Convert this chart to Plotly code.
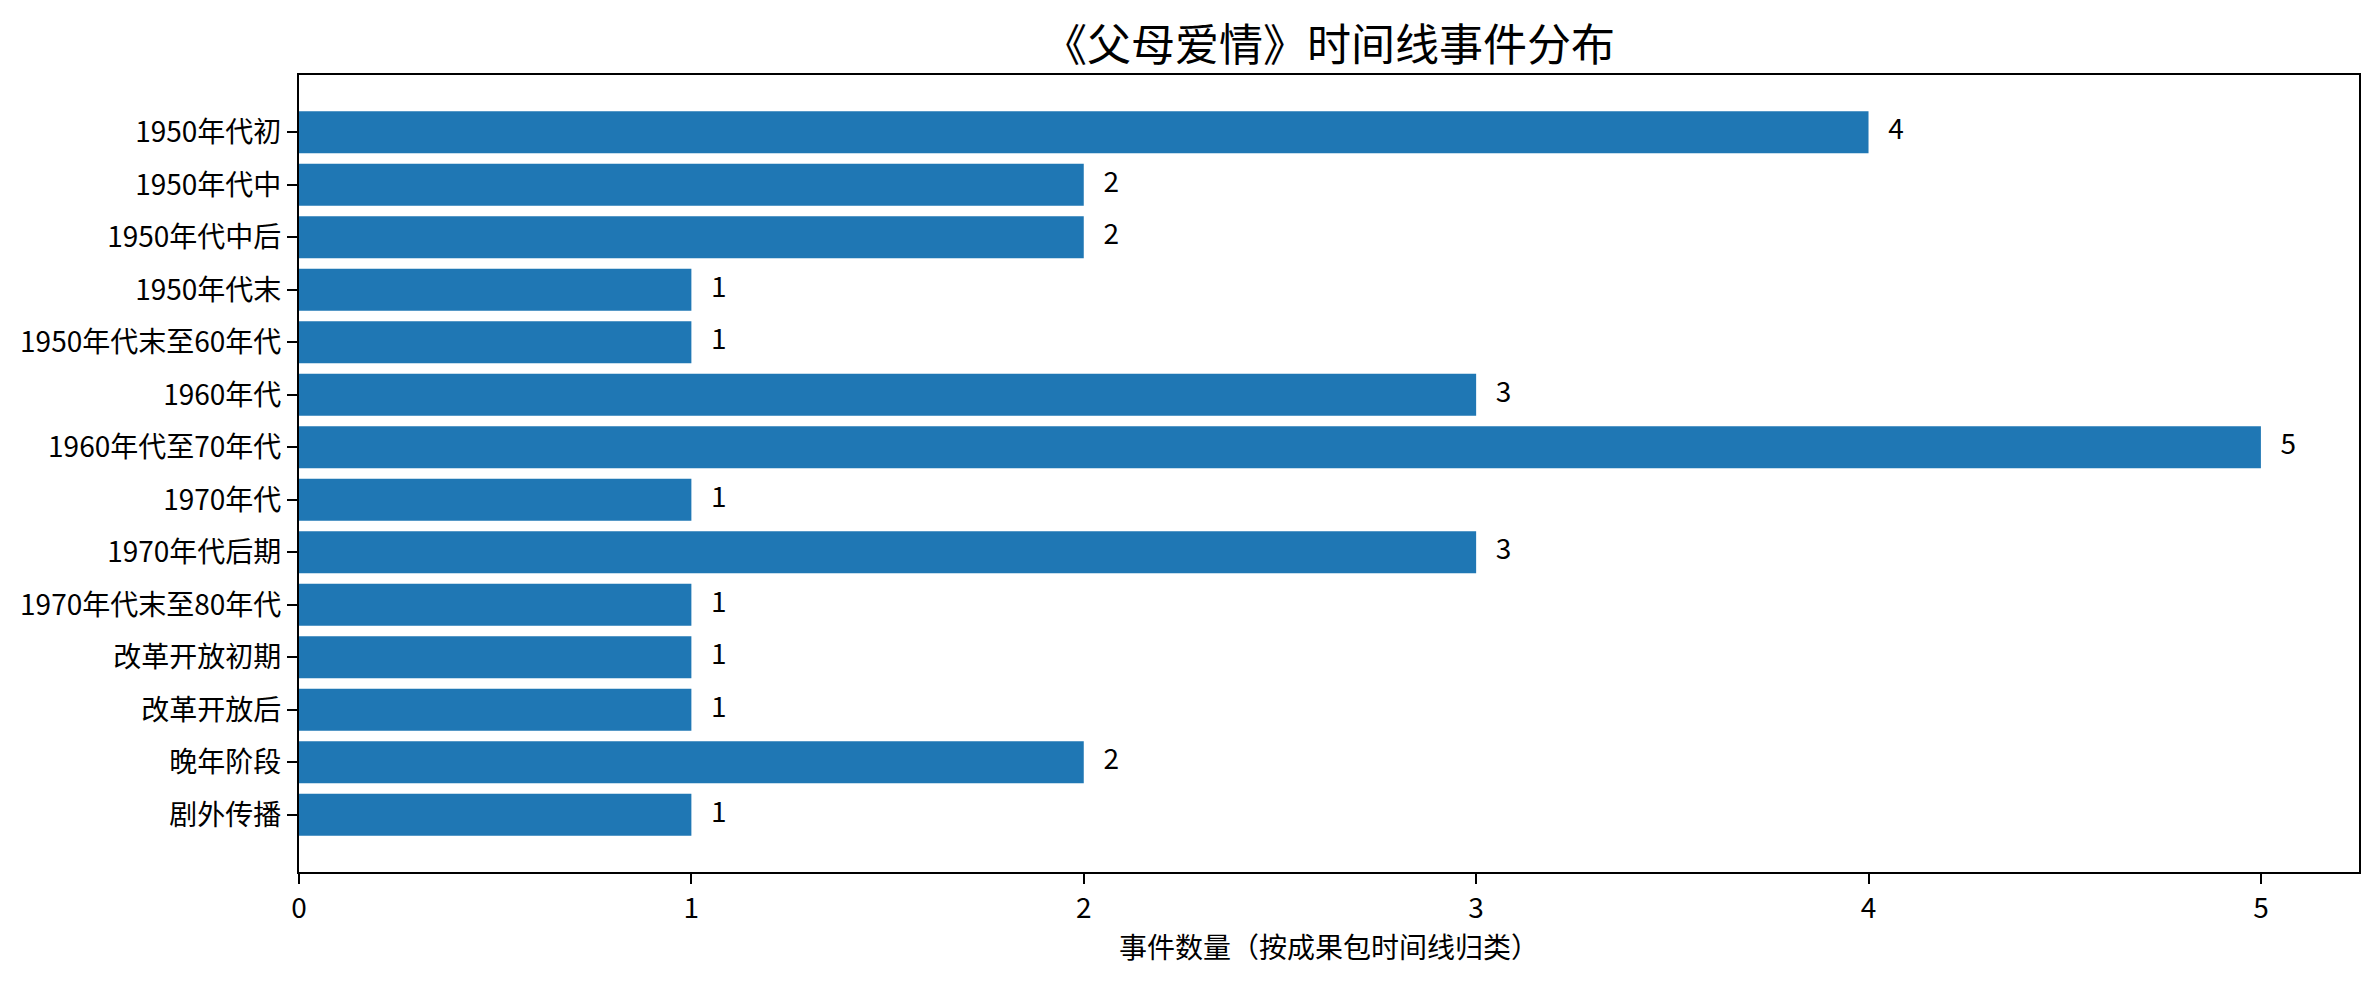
import plotly.graph_objects as go

# 时间线分类与事件数量
periodos = ['1950年代初', '1950年代中', '1950年代中后', '1950年代末', '1950年代末至60年代',
            '1960年代', '1960年代至70年代', '1970年代', '1970年代后期', '1970年代末至80年代',
            '改革开放初期', '改革开放后', '晚年阶段', '剧外传播']
conteos = [4, 2, 2, 1, 1, 3, 5, 1, 3, 1, 1, 1, 2, 1]

titulo = '《父母爱情》时间线事件分布'
etiqueta_x = '事件数量（按成果包时间线归类）'

fuente = 'Noto Sans CJK SC'

fig = go.Figure()
fig.add_trace(go.Bar(
    x=conteos, y=periodos, orientation='h',
    marker=dict(color='#1f77b4', line=dict(width=0)),
    hoverinfo='x+y', showlegend=False
))
# etiquetas de valor junto a cada barra
fig.add_trace(go.Scatter(
    x=[c + 0.05 for c in conteos], y=periodos, mode='text',
    text=[str(c) for c in conteos], textposition='middle right',
    textfont=dict(family=fuente, size=28, color='black'),
    hoverinfo='skip', showlegend=False
))

fig.update_layout(
    width=2379, height=984,
    margin=dict(l=291, r=28, t=67, b=120),
    paper_bgcolor='white', plot_bgcolor='white',
    bargap=0.2,
    font=dict(family=fuente, size=28, color='black'),
    # titulo centrado sobre el area del grafico, como en el original
    title=dict(text=titulo, xref='paper', x=0.5, xanchor='center', y=0.962, yanchor='middle',
               font=dict(family=fuente, size=44, color='black')),
)
fig.update_xaxes(
    range=[0, 5.25], tickvals=[0, 1, 2, 3, 4, 5], showgrid=False, zeroline=False,
    showline=True, linecolor='black', linewidth=2.2, mirror=True,
    ticks='outside', ticklen=10, tickwidth=2.2, tickcolor='black',
    tickfont=dict(size=28),
    title=dict(text=etiqueta_x, font=dict(size=28), standoff=10)
)
fig.update_yaxes(
    categoryorder='array', categoryarray=periodos, autorange=False,
    range=[len(periodos) - 1 + 1.09, -1.09], showgrid=False, zeroline=False,
    showline=True, linecolor='black', linewidth=2.2, mirror=True,
    ticks='outside', ticklen=10, tickwidth=2.2, tickcolor='black',
    tickfont=dict(size=28)
)

fig.write_html("out.html")
